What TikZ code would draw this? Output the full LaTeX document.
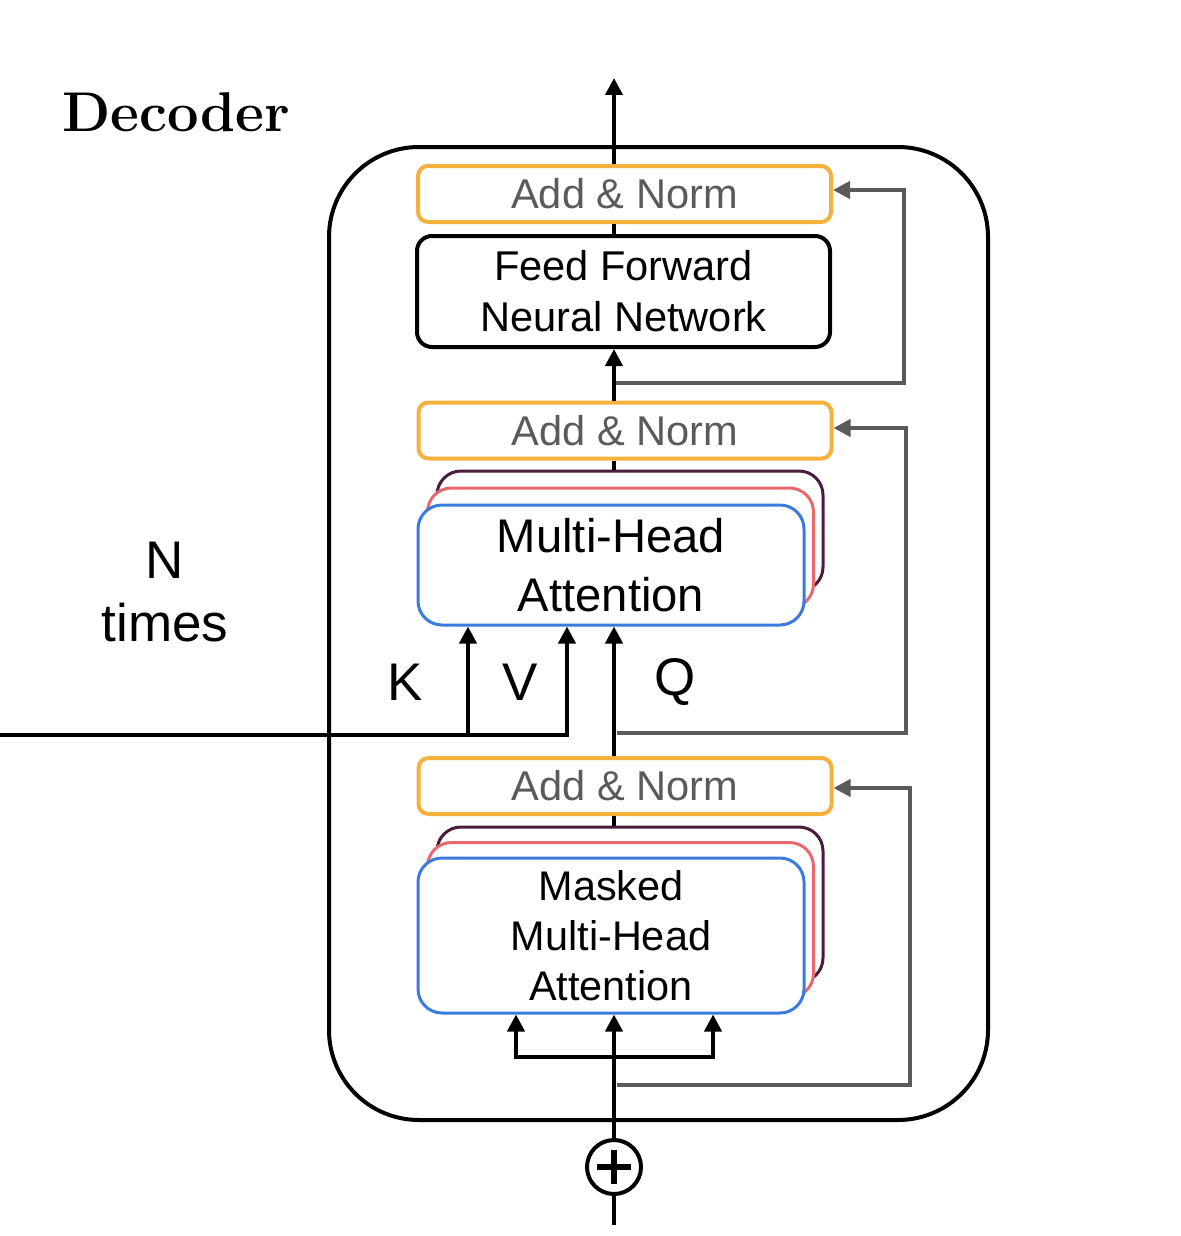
\documentclass[tikz,border=0pt]{standalone}
\usepackage{fontspec}
\setmainfont{Liberation Sans}
\newfontfamily\lmbold{Latin Modern Roman}
\usetikzlibrary{arrows.meta}
\definecolor{normorange}{HTML}{F4B13E}
\definecolor{normgray}{HTML}{5A5A5A}
\definecolor{headblue}{HTML}{3A7BE0}
\definecolor{headpink}{HTML}{E8686E}
\definecolor{headdark}{HTML}{4A1B3C}

\begin{document}
\begin{tikzpicture}[x=0.5pt,y=-0.5pt,
  addnorm/.style={draw=normorange,line width=2pt,rounded corners=5pt,
    minimum width=206.5pt,minimum height=28pt,inner sep=0pt,
    text=normgray,font=\fontsize{20.8}{25}\selectfont},
  ffnbox/.style={draw,line width=2pt,rounded corners=7.5pt,
    minimum width=206.5pt,minimum height=55.5pt,inner sep=0pt,align=center,
    font=\fontsize{20.8}{25.5}\selectfont},
  headbox/.style={line width=1.5pt,rounded corners=12pt,fill=white,
    minimum width=193pt,inner sep=0pt,align=center},
  arrow/.style={line width=2pt,-{Triangle[length=8.5pt,width=8.5pt]}},
  resid/.style={normgray,line width=2pt,-{Triangle[length=8.5pt,width=8.5pt]}},
  bigtext/.style={font=\fontsize{26.5}{31.5}\selectfont,align=center}]
  \useasboundingbox (0,0) rectangle (1180,1236);
  \node[font=\lmbold\bfseries\fontsize{28}{32}\selectfont] (title) at (176,112) {Decoder};
  \draw[line width=2pt,rounded corners=45pt] (329,147) rectangle (988,1120);
  \node[bigtext] (ntimes) at (165,592) {N\\times};

  % boxes
  \node[addnorm] (an3) at (624.5,194) {Add \& Norm};
  \node[ffnbox] (ffn) at (623.5,291.5) {Feed Forward\\Neural Network};
  \node[addnorm] (an2) at (625,430.5) {Add \& Norm};
  \node[headbox,draw=headdark,minimum height=60pt] (mhaC) at (630,531) {};
  \node[headbox,draw=headpink,minimum height=60pt] (mhaB) at (620.5,548) {};
  \node[headbox,draw=headblue,minimum height=60pt,
    font=\fontsize{23.6}{29.5}\selectfont] (mha) at (611,565) {Multi-Head\\Attention};
  \node[addnorm] (an1) at (625,786) {Add \& Norm};
  \node[headbox,draw=headdark,minimum height=77.5pt] (mmhaC) at (630,904.5) {};
  \node[headbox,draw=headpink,minimum height=77.5pt] (mmhaB) at (620.5,920) {};
  \node[headbox,draw=headblue,minimum height=77.5pt,
    font=\fontsize{20.7}{25}\selectfont] (mmha) at (611,935.5) {Masked\\Multi-Head\\Attention};
  \node[draw,circle,line width=2pt,minimum size=27pt,inner sep=0pt] (plus) at (614,1167) {};
  \draw[line width=2.6pt] ([xshift=-8.5pt]plus.center) -- ([xshift=8.5pt]plus.center);
  \draw[line width=2.6pt] ([yshift=-8.5pt]plus.center) -- ([yshift=8.5pt]plus.center);

  % labels
  \node[bigtext] (klabel) at (405,682) {K};
  \node[bigtext] (vlabel) at (520,682) {V};
  \node[bigtext] (qlabel) at (675,682) {Q};

  % main path
  \coordinate (top) at (614,78);
  \coordinate (in) at (614,1225);
  \draw[arrow] (an3.north -| top) -- (top);
  \draw[line width=2pt] (an3.south -| top) -- (ffn.north -| top);
  \draw[arrow] (an2.north -| top) -- (ffn.south -| top);
  \draw[line width=2pt] (an2.south -| top) -- (mhaC.north -| top);
  \draw[arrow] (an1.north -| top) -- (mha.south -| top);
  \draw[line width=2pt] (an1.south -| top) -- (mmhaC.north -| top);
  \draw[line width=2pt] (in) -- (plus.south);
  \draw[arrow] (plus.north) -- (mmha.south -| top);

  % split into three
  \coordinate (split) at (614,1057);
  \coordinate (sl) at (516,1057);
  \coordinate (sr) at (713,1057);
  \draw[arrow] (split) -| (sl |- mmha.south);
  \draw[arrow] (split) -| (sr |- mmha.south);

  % encoder input K, V
  \coordinate (enc) at (0,735);
  \coordinate (kx) at (468,735);
  \coordinate (vx) at (567,735);
  \draw[arrow] (enc) -| (vx |- mha.south);
  \draw[arrow] (kx) -- (kx |- mha.south);

  % residuals
  \coordinate (r3a) at (616,383);
  \coordinate (r3b) at (904,190);
  \draw[resid] (r3a) -| (r3b) -- (r3b -| an3.east);
  \coordinate (r2a) at (617,733);
  \coordinate (r2b) at (906,428);
  \draw[resid] (r2a) -| (r2b) -- (r2b -| an2.east);
  \coordinate (r1a) at (617,1085);
  \coordinate (r1b) at (910,788);
  \draw[resid] (r1a) -| (r1b) -- (r1b -| an1.east);
\end{tikzpicture}
\end{document}
